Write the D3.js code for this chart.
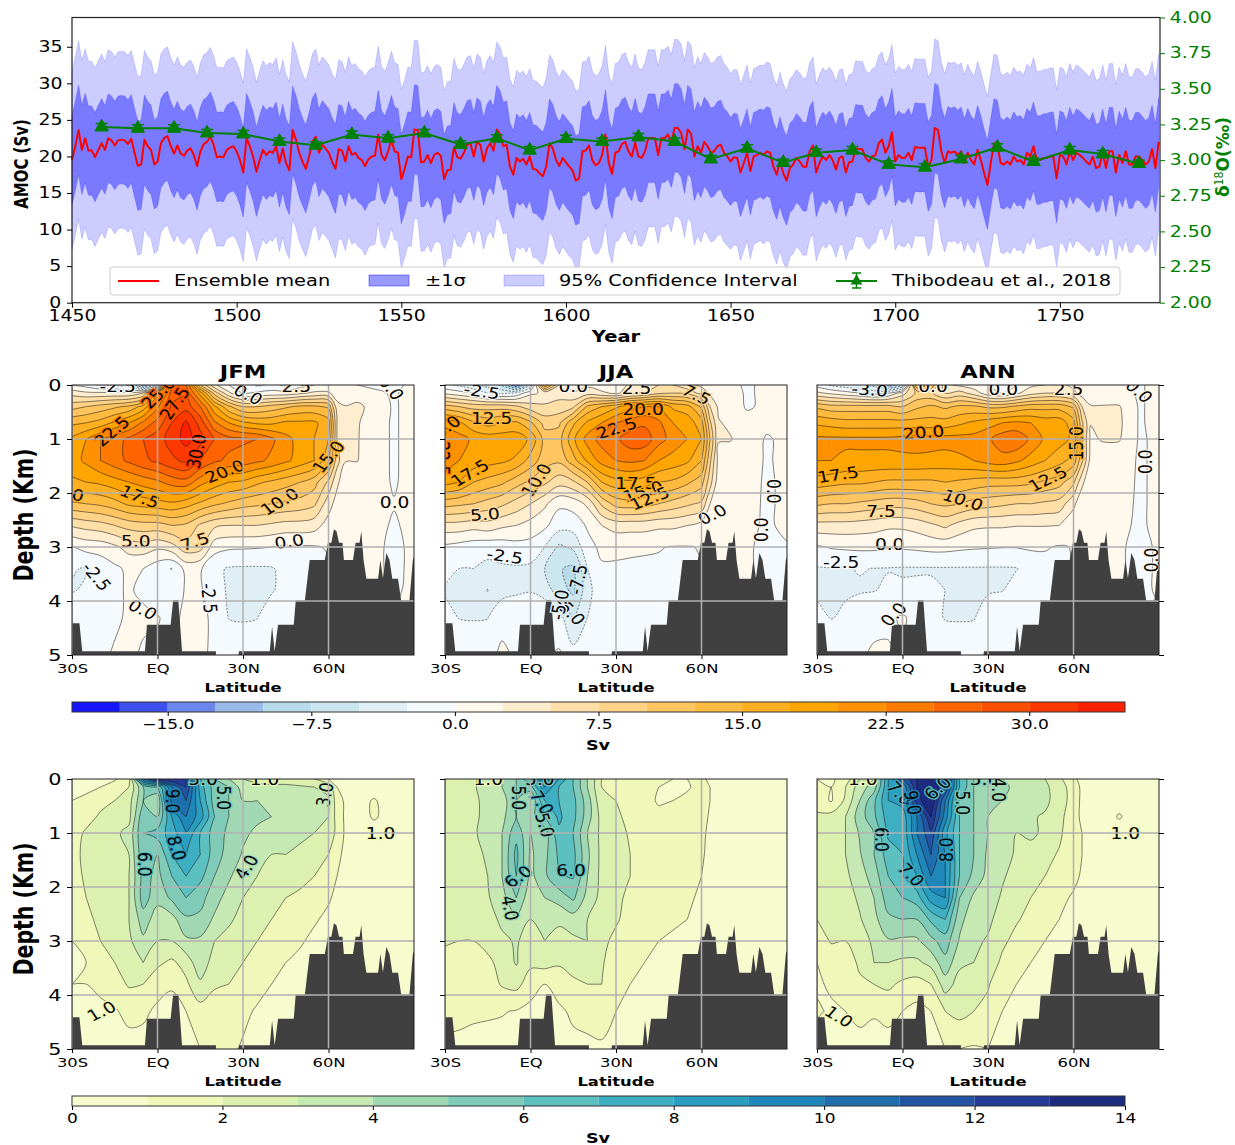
<!DOCTYPE html>
<html>
<head>
<meta charset="utf-8">
<script src="https://cdn.jsdelivr.net/npm/d3@7"></script>
<style>
  html, body { margin: 0; padding: 0; background: #fff; }
  svg { display: block; font-family: "DejaVu Sans", sans-serif; }
  .wide { transform-box: fill-box; transform-origin: center; transform: scaleX(1.26); }
</style>
</head>
<body>
<div id="chart"></div>
<script>
// --- Time series data ---
const firstYear = 1450;
const amocMean = [
  19.5,21.4,23.6,20.9,22.5,20.8,20.8,19.9,20.9,21.8,20.9,22.5,22.2,21.5,22.2,22.3,22.2,21.7,22.4,20.5,
  18.7,18.9,22.3,21.4,20.9,18.9,19.3,21.8,22.5,22.8,21.4,20.4,21.5,20.4,20.1,20.8,21.1,20.2,18.7,20.7,
  21.7,22,22.7,21.6,19.9,20,19.9,20.9,21.2,21.4,20.7,19.5,17.8,22.5,21.4,20,17.9,19.5,20.9,20.2,
  20.7,20.5,21.4,19.1,21.1,19.1,18.1,23.6,22.3,20.5,19.3,18.3,20,22,22.7,20.5,21.6,21.1,20.5,19.3,
  18.3,21,20.8,19.3,21.4,20.2,20.5,19.8,19.5,18.7,19.6,20,20.1,23,20.2,19.5,20.7,22.3,20.7,20.5,
  16.9,18.3,20,19.9,23.7,23.6,19.2,19.3,20.2,19.1,20.2,20.5,20.1,16.9,18.1,18.2,21.3,19.9,19.7,20.5,
  21.6,21.8,20,22,21.6,19.3,21.1,21.8,20.8,23.7,23,21.4,21.6,18.6,17.5,19.8,19.3,19.7,18.9,20,
  18.3,18.2,17.7,17.3,18.6,21.8,21.1,19.5,18.7,19.8,19.2,18.6,18.1,16.7,17,20.7,20.8,21.5,19.5,18.8,
  19.1,20.2,23,19.1,17.6,20.5,20.7,21.7,22,20.7,20,21.9,20,19.8,20.7,22.5,22.5,22.5,20.2,22.5,
  22.5,23,21.8,23.9,23.9,23.2,21,23.7,23.1,20,21.4,20.5,22,21.4,20.5,20.7,21.4,21.6,20.5,20,
  19.3,19.9,19.8,17.8,19.1,20.5,18,20,20.2,20.5,20.2,20.7,20.5,18.6,17.5,19.3,17.7,16.7,18.4,18.9,
  19.8,19.3,18.6,18.6,20.7,21.5,17.8,19.1,20,19.5,20.2,19.5,18.2,19.8,20,17.8,19.2,19.3,21.1,21,
  21,19.8,19.3,20,20.2,21.8,22.3,20.5,21.4,23.3,19.3,20.2,19.8,19.8,20.5,19.5,21.3,21.2,21.2,21.2,
  18.6,19.5,23.9,23.6,20.7,19.1,20.7,20.5,20.7,20.2,20.7,19.1,20.5,19.5,18.9,20.9,19.5,17.7,16.1,19.1,
  21.8,21.6,19.1,18.9,19.3,18.9,20,19.3,19.5,18.9,20.5,20,21.4,19.5,19.5,19.8,19.8,20,20,17,
  20.2,20,18.9,20.7,19.5,20.5,20.2,19.8,19.3,18.9,20,18.4,18.6,20.5,18.4,20.7,20.7,17.8,20.2,19.1,
  20.7,18.9,18.9,20,20,19.5,18.9,19.3,21,18.4,22
];
// one spread value per decade, starting at 1450
const amocSigma = [6.1,6.05,6.1,6.05,6.1,6.1,6.05,6.0,6.1,6.05,6.1,6.05,6.0,6.0,6.05,6.1,6.1,6.05,6.05,6.1,6.0,6.1,6.05,6.0,6.0,6.05,6.1,6.05,6.1,6.05,6.0,6.0,6.0,6.0];

const thibYears = [1459,1470,1481,1491,1502,1513,1524,1535,1546,1557,1568,1579,1589,1600,1611,1622,1633,1644,1655,1666,1676,1687,1698,1709,1720,1731,1742,1753,1763,1774];
const thibValues = [3.232,3.223,3.223,3.19,3.183,3.13,3.104,3.18,3.153,3.19,3.11,3.153,3.07,3.15,3.13,3.162,3.13,3.008,3.083,2.982,3.052,3.07,2.97,2.95,3.008,3.09,2.989,3.07,3.043,2.975];
const thibError = 0.025;

// --- Section grids: one row per depth, one column per latitude ---
const gridLats = [-30,-25,-20,-15,-10,-5,0,5,10,15,20,25,30,35,40,45,50,55,60,63,66,70,76,83,90];
const gridDepths = [0,.15,.4,.7,1,1.4,1.8,2.2,2.6,3,3.4,3.8,4.3,5];

const jfmMean = [
  [0,-1,-3,-3,-4, -12,-8,25,25,10, 3,0,-1,-3,-2, -3,-1,0,0,0, 0,0,-.5,-.5,.5],
  [4,3,3,3,3, 5,16,26,27,19, 9,3,0,.5,1, 1,2,3,3,1, 1,1,.5,-.3,1],
  [9,10,11,12,13, 16,22,28,29,25, 18,13,10,10,11, 12,13,13,12,3.5, 2.6,3.2,1.5,-.3,1],
  [14.5,15,16,18,20, 23,26,30,33,29, 23,20,18,17,17, 18,18,18,16,5, 2.6,2.8,1,-.3,1],
  [18,20,22.5,24,25.5, 27.5,29,31,33.5,31, 27.5,25.8,25.4,25,23, 20.8,19,17.5,15,5, 2.8,2.7,1,-.3,1],
  [19,20.5,22.5,24,25.5, 27,28,29.5,30.5,27.5, 25.5,24.5,24,23,22, 20.5,19,17.5,13,6, 2.6,2.6,1,-.3,1],
  [17,17.5,18,19,20, 21,22,23.5,24,21, 19,17.5,17,15.5,14.5, 13.5,12.5,11,7,3, .8,.8,.8,-.2,.8],
  [12,12.5,13,14,15.5, 16,16.5,17,16,14.5, 13,12,11,10.5,10, 9.5,9,8,3.5,1.5, .7,.6,.6,.1,.6],
  [5.3,6,6.5,7.5,8.5, 9,9,10,9.5,7, 5.5,5,5,5,4.5, 4,4,3.5,1.5,.6, .5,.5,.5,-.2,.5],
  [-.1,.8,1,2,3.5, 3.8,3,4,6.5,6, 1,.4,.3,.2,0, -.4,-.3,-.2,.2,.3, .3,.3,.3,-.3,.3],
  [-2.4,-2.6,-1.5,-.5,.5, 0,-1.5,-2.6,.8,.3, -2,-2.7,-2.8,-2.8,-2.7, -1.8,-1,-.5,-.3,.3, .3,.3,.3,-.3,.3],
  [-2.6,-2.3,-1.2,-.3,.2, -.4,-1.5,-1.2,.2,.3, -1.5,-2.8,-3,-3,-2.8, -1.5,-.8,-.3,.3,.3, .3,.3,.3,-.2,.3],
  [-1.5,-.9,-.8,-.6,.5, .4,.1,-.5,.4,.6, -.5,-2.6,-2.8,-2.6,-.7, -.3,-.2,0,.2,.2, .2,.2,.2,.2,.2],
  [-1,-1,-.7,.4,.5, -.3,-.3,-.3,.5,.5, -.5,-.8,-.5,-.3,-.2, -.2,-.1,0,0,0, 0,0,0,0,0]
];
const jjaMean = [
  [-2,-3,-5,-6,-8, -15,-5,15,5,.5, 2,1,1,3,4, 5,5,3,2,.5, .5,.5,-.3,.5,.5],
  [2,1,0,-2.5,-3, -2,2,3,4,3, 4,3,2,4,5, 7,7.5,7,4,2, 1,1,-.3,.5,.5],
  [11,10,9,9,9, 8,6,5.5,6,7, 13,15,17,19,20, 20,17,16,12,5, 2,1.5,-.3,.5,.5],
  [19,18,15.5,14,15, 15.5,13,9,9.5,14.5, 18,20,22.5,23.5,24.5, 23,20,19,16,8, 2.7,2,1,.5,.5],
  [22.5,21,19.5,19,19, 19,17,11.5,11.5,17, 21,23.5,24.5,26.5,26.5, 23.5,21.5,20,17.5,10, 2.7,2.7,1,-.2,.5],
  [21.5,20,19,18.5,18, 17,14,11,10.5,14, 18,21,22.5,23,22.5, 20,19,18,15,8, 1.5,1,.8,-.2,.5],
  [18.5,17.5,15,14,13, 11,9.5,8,6,7, 10,15,16.5,17,16, 15,14.5,13,11,6, 1,.8,.5,-.2,.3],
  [11,10.5,10,9,8, 6.5,5,3,.5,1, 3,8,11,11.5,11, 10,9,8,7,2.5, .7,.5,.4,-.2,.3],
  [4,4,3.5,4,3, 2.5,1.5,.5,-1.5,-1.5, .3,2.5,3.5,3.5,3.5, 3,3,2.5,1.5,.3, .3,.3,.3,-.2,.3],
  [-.5,-1,-1.5,-1.8,-1.5, -1,-1,-2.5,-5.5,-4.5, -.8,.5,.5,.3,.2, .1,-.1,-.1,.1,.1, .1,.1,.1,-.2,-.1],
  [-1.8,-2.5,-2.5,-3,-2.8, -2.8,-3,-5,-7.3,-8, -2.5,-.3,-.3,-.3,-.3, -.3,-.2,-.2,-.1,-.1, .1,.1,.1,-.2,-.2],
  [-2.7,-3.3,-4,-5.1,-3.5, -3,-2.7,-3.5,-6.5,-8, -3.5,-.5,-.4,-.4,-.3, -.3,-.2,-.2,-.1,-.1, .1,.1,.1,-.2,-.2],
  [-1.8,-2.6,-2.7,-2.6,-.5, -.3,-.2,-.5,-1.5,-5.3, -2.5,-.4,-.4,-.3,-.3, -.2,-.2,-.2,-.1,-.1, -.1,-.1,-.1,-.1,-.1],
  [-.5,-.6,-.6,-.5,.3, -.2,-.2,-.2,.3,-1.5, -.8,-.4,-.3,-.3,-.2, -.2,-.2,-.1,-.1,-.1, -.1,-.1,-.1,-.1,-.1]
];
const annMean = [
  [-1,-3,-4,-5,-6, -12,-8,15,12,3, 2,1,0,-1,0, 2,2.5,3,2,1, .5,.5,.5,-.2,.5],
  [3,2,1,0,-1, 0,4,8,8,5, 6,4,1,0,2, 4,5,5,3,1.5, .8,.7,.7,-.2,.5],
  [12,11,11,11,11, 11,10,12,13,12, 13,13,12,12,13, 14,14,14,12,5, 2.7,2.7,2.7,-.2,.5],
  [17,16.5,16,16,16, 16,16,16,16,16, 17,18,19,20,20.5, 20,19,19,16,8, 2.6,3,3,-.2,.5],
  [20.5,20.5,20.5,20.5,20.5, 20.5,20.8,21,21,21, 21,21,22,24,24.5, 22,19.5,18.5,17,8, 2,2.7,2.7,-.2,.3],
  [20,20,19.5,19.5,19.5, 19.5,19.5,19.5,19.3,19, 19.5,20,21,21.5,20.5, 19,17.5,16,14,8, 1.5,1,1,-.2,.3],
  [16.5,16,15.5,15.5,15, 14.5,14.5,14.5,14.5,15, 14.5,14,13.5,13.5,13.5, 13,12,11,8,3, .7,.7,.7,-.2,.3],
  [10.5,10,10,9.5,9, 8.5,8.5,9,10,10.5, 10,9,8.5,8,7.5, 7.5,7,6.5,3,1, .5,.5,.5,-.2,.3],
  [4,4,4,3.8,3.5, 3,3,3.5,4.5,5.5, 4,3,2.8,2.8,2.6, 2.6,2.6,2.5,1,.3, .3,.3,.3,-.2,.3],
  [-.3,.2,.4,.5,.5, .2,.3,.5,.8,.8, .5,.3,.2,.1,.1, .3,.2,-.2,.1,.1, .1,.1,.1,-.2,.1],
  [-2.7,-2.6,-2.6,-2.4,-2.55, -2.6,-2.7,-2.7,-2.7,-2.7, -2.7,-2.7,-2.7,-2.7,-2.6, -1.5,-.8,-.3,.1,.1, .1,.1,.1,-.2,.1],
  [-2.8,-2.8,-2.7,-2.7,-2.6, -2.1,-2.2,-2.1,-2.1,-2.5, -2.7,-2.8,-2.8,-2.6,-1.5, -.8,-.4,-.2,.1,.1, .1,.1,.1,-.2,.1],
  [-2,-2.6,-2.2,-1.2,-.6, -.3,.2,-.5,-1.5,-2.7, -2.8,-2.7,-1,-.5,-.3, -.2,-.2,-.1,-.1,-.1, -.1,-.1,-.1,-.1,-.1],
  [-.5,-.5,-.5,-.3,.3, .2,-.3,-.3,-.3,-.3, -.3,-.3,-.3,-.2,-.2, -.1,-.1,-.1,-.1,-.1, -.1,-.1,-.1,-.1,-.1]
];
const jfmStd = [
  [.6,.6,.7,.9,1.5, 10,13,13,12,7, 5,4,3,2.5,2, 2,2,2,1,.8, .8,.8,.7,.7,.7],
  [.7,.8,1,1.4,2, 5,6,10,12,7.5, 5.5,5,3.5,3.5,3.5, 3.5,3.2,3,2.8,1, .8,.8,.7,.7,.7],
  [1,1.2,1.6,2,2.6, 5,4,10.5,11,8, 5.5,5,4,4,3.8, 3.5,3.3,3.2,3.1,1.5, .8,.8,1.05,.7,.7],
  [1.2,1.5,2.2,2.3,2.7, 5.8,5,8,10,8.5, 6,5,4.5,4.2,4, 3.8,3.5,3.2,3,1.6, .8,.8,1.05,.8,.7],
  [1.4,2.2,2.6,2.8,3.3, 6,6.4,7.5,9,7, 5.5,4.8,4.2,3.8,3.5, 3.3,3.2,3,2.5,1.8, .8,.8,.8,.8,.8],
  [1.6,2.3,2.6,2.7,3, 5.8,5,7,8,7, 5.5,4.6,3.9,3.4,3, 3,2.8,2.5,2,1.2, .8,.8,.8,.8,.8],
  [1.5,2.2,2.5,2.6,3, 5.4,4.7,6,7,6.3, 5,4.2,3.2,3,2.8, 2.5,2.3,2,1.6,1, .7,.7,.7,.7,.7],
  [1.3,2,2.3,2.5,3, 5.5,4.3,5.2,6,5.3, 4.5,3.5,3,2.6,2.2, 2,1.8,1.5,1.1,.8, .7,.6,.6,.6,.6],
  [1.2,1.8,2.2,2.4,3, 4.5,3.5,3.6,4.8,4.8, 3.8,3.1,2.8,2.2,2, 1.6,1.4,1.1,.8,.6, .6,.5,.5,.5,.5],
  [1,1.2,2,2.2,2.8, 3.8,3,3,3.8,3.8, 3,2.8,2.4,2,1.8, 1.3,1.1,.8,.6,.5, .5,.5,.5,.5,.5],
  [.9,1,1.5,2,2.2, 3,2.2,1.8,2.4,3.7, 2.5,2.2,2,1.8,1.4, 1,.8,.6,.5,.5, .5,.5,.5,.5,.5],
  [1,1,1.2,1.6,2.1, 2,1.4,1.1,1.8,2.8, 2.1,2,1.8,1.3,1, .8,.6,.5,.5,.5, .5,.5,.5,.5,.5],
  [.9,.9,.8,.9,1.3, 1.2,.8,.7,1,1.6, 1.6,1.6,1.2,.9,.7, .6,.5,.4,.4,.4, .4,.4,.4,.4,.4],
  [.5,.5,.5,.5,.6, .6,.5,.5,.7,1, 1.3,1.2,.9,.7,.5, .4,.4,.4,.4,.4, .4,.4,.4,.4,.4]
];
const jjaStd = [
  [2.5,2.5,2.8,3.5,4, 5,7,11,8,6, 4,2,1.5,1.2,1.2, 1,1,1,1.2,.8, .7,.7,.7,.7,.7],
  [2.5,2.6,2.9,3.4,4, 5,5.5,9,7,6, 4,2,1.6,1.3,1.2, 1,.9,.9,1.3,1, .7,.7,.7,.7,.7],
  [2.5,2.5,2.8,3.3,3.5, 5,4,7,7,6.3, 4.5,2.2,2,1.5,1.3, .9,1,1.2,1.3,1, .7,.7,.7,.7,.7],
  [2.5,2.5,2.8,3.3,3.7, 5,4.5,6,7.2,6.3, 4.5,2.6,2.2,1.7,1.4, 1.2,1.2,1.2,1.3,.9, .7,.7,.7,.7,.7],
  [2.5,2.5,2.9,3.3,4, 5.7,4,4.5,6.8,6, 4,2.7,2.3,1.9,1.6, 1.4,1.3,1.2,1.2,.8, .7,.7,.7,.7,.7],
  [2.5,2.5,2.8,3.1,4, 6.3,3.8,4.7,6.2,6.3, 4.2,2.7,2.3,2,1.7, 1.4,1.3,1.2,1.1,.8, .7,.7,.7,.7,.7],
  [2.4,2.4,2.6,3,4, 6,3.7,4.8,5.9,6.1, 4,2.7,2.2,2,1.7, 1.4,1.3,1.2,1,.8, .7,.7,.7,.7,.7],
  [2.3,2.3,2.5,2.9,3.6, 5,3.3,4,4.4,5.2, 3.6,2.7,2.2,1.8,1.6, 1.3,1.2,1.1,.9,.7, .6,.6,.6,.6,.6],
  [2.2,2.2,2.2,2.6,3.2, 4,3,3.2,3.2,3.5, 3,2.4,2.1,1.7,1.4, 1.2,1.1,1,.9,.7, .6,.6,.6,.6,.6],
  [2.1,2,2,2.3,2.8, 3.1,2.6,3,2.6,2.8, 3,2.2,1.8,1.4,1.2, 1,.9,.8,.7,.6, .6,.6,.6,.6,.6],
  [1.7,1.6,1.7,1.8,2.3, 3.1,2.2,2.4,2.1,2.2, 2.5,2.1,1.5,1.2,1, .8,.7,.7,.6,.6, .6,.6,.6,.6,.6],
  [1.5,1.5,1.4,1.5,2.1, 2.3,1.5,1,1.5,1.9, 2,2,1.4,1,.8, .7,.6,.6,.6,.6, .6,.6,.6,.6,.6],
  [1.3,1.2,1.1,1.1,1.05, .95,.7,.6,.8,1.2, 1.3,1.3,1,.8,.7, .6,.5,.5,.5,.5, .5,.5,.5,.5,.5],
  [.8,.8,.8,.7,.7, .6,.5,.5,.5,.7, .8,.9,.7,.6,.5, .5,.5,.5,.5,.5, .5,.5,.5,.5,.5]
];
const annStd = [
  [1,.8,1.5,3,4, 8,11,13,13,12, 7,5,4.5,4,3.5, 3.3,3,2.2,1.2,.7, .7,.7,.7,.7,.7],
  [1.2,1,2,3.5,4.5, 8,9,13,14,12, 7,5,4.6,4.2,3.8, 3.3,3.2,2.5,1.5,.8, .7,.7,.7,.7,.7],
  [1.5,.9,2.2,4,5.8, 8,8.5,12.5,14,10, 6,5,4.5,4,3.5, 3.3,3.2,2.6,1.5,.8, .7,.7,.8,.7,.7],
  [2.2,2.4,3,4.5,5.8, 7.5,7.4,10,13,9.5, 6,5,4,3.6,3.2, 3.1,2.9,2.3,1.4,.8, .7,.7,1.05,.7,.7],
  [2.5,2.7,3,4.1,5, 7.2,7.2,10,11.8,8.3, 6,5,4,3.5,3, 3.2,2.8,2.2,1.3,1, .7,.7,.7,.7,.7],
  [2.5,2.7,3,3.9,5, 6.5,7,9,11,9, 6,5,3.8,3.3,2.9, 2.6,2.3,1.9,1.2,1, .7,.7,.7,.7,.7],
  [2.4,2.5,2.8,3.5,4.5, 6,7,8,10,9, 6,4.7,3.7,3.1,2.7, 2.3,2,1.7,1.2,.9, .7,.7,.7,.7,.7],
  [2.2,2.3,2.5,3.2,4, 5.5,6,6.5,8.5,9, 5,3.8,3.4,2.9,2.4, 2,1.6,1.2,.9,.8, .6,.6,.6,.6,.6],
  [2,2,2.2,2.9,3.7, 4.8,5,5,6.2,7, 4.3,3.4,3.2,2.6,2.1, 1.7,1.3,1,.8,.7, .6,.6,.6,.6,.6],
  [1.4,2.1,2,2.5,3.2, 3.9,3.8,3.8,4.7,5.5, 3.9,3.2,2.9,2.2,1.7, 1.3,1,.8,.7,.6, .6,.6,.6,.6,.6],
  [1,1.3,1.7,2.1,3, 3,2.8,2.8,3.3,4.7, 3.2,3,2.6,1.8,1.4, 1,.8,.7,.6,.6, .6,.6,.6,.6,.6],
  [.9,1.1,1.3,1.9,2, 2.2,1.8,1.6,2,3.5, 2.6,2.5,2.1,1.3,1, .8,.7,.6,.6,.6, .6,.6,.6,.6,.6],
  [1.1,.9,1,1.3,1.1, 1.3,1,.7,1,2, 2.3,2,1.7,1,.8, .6,.6,.6,.6,.6, .6,.6,.6,.6,.6],
  [.6,.6,.6,.6,.6, .6,.5,.5,.5,1, 1,.9,1,.7,.5, .5,.5,.5,.5,.5, .5,.5,.5,.5,.5]
];

// sea floor outline, same in every panel
const floorLats = [-30,-27.4,-26.4,-4.4,-3.7,4.6,5.5,7.3,8.6,20.5,20.5,28.4,28.6,39.4,40.2,41.1,42.3,47.8,48.5,51.7,53.4,58.7,59.8,61,61.9,62.8,63.7,64.9,65.4,68.6,69.5,70.9,71.5,72.3,73.3,77.4,78.2,79.1,80.3,81.4,82.4,84.4,85.5,88.4,89.6,90];
const floorDepths = [4.41,4.41,4.93,4.93,4.44,4.44,3.98,3.98,4.93,4.93,5,5,4.93,4.93,4.47,4.93,4.44,4.44,3.99,3.99,3.24,3.24,2.92,2.92,2.67,2.71,2.92,2.92,3.24,3.24,2.92,2.92,2.71,3.24,3.59,3.59,3.24,3.58,3.11,3.24,3.59,3.59,3.99,3.99,3.24,3.18];

// contour labels: [lat, depth, angle, text]
const jfmMeanLabels = [[-14,.03,0,"-2.5"],[-16,.86,45,"22.5"],[.3,.15,50,"25.0"],[6,.34,60,"27.5"],[13.7,1.23,80,"30.0"],[31.8,.18,-30,"0.0"],[48.7,.03,0,"2.5"],[60,1.33,55,"15.0"],[82,.06,-55,"0.0"],[23.6,1.6,25,"20.0"],[-6.2,2.07,-25,"17.5"],[42.9,2.16,35,"10.0"],[-33,2,-10,"15.0"],[83.2,2.18,0,"0.0"],[-7.6,2.9,0,"5.0"],[13.1,2.9,20,"7.5"],[46.2,2.9,10,"0.0"],[-21.4,3.55,-55,"-2.5"],[18.1,3.95,-85,"-2.5"],[-5.2,4.16,-30,"0.0"]];
const jjaMeanLabels = [[-17.1,.12,-10,"-2.5"],[15,.03,0,"0.0"],[37.2,.06,0,"2.5"],[58.2,.18,-30,"7.5"],[-13.6,.62,0,"12.5"],[39.5,.46,0,"20.0"],[30.2,.8,20,"22.5"],[-31,.83,40,"20.0"],[-31,1.36,-90,"22.5"],[-21.2,1.63,35,"17.5"],[2.1,1.76,60,"10.0"],[37,1.83,0,"17.5"],[39.5,1.97,20,"15.0"],[41.8,2.1,25,"12.5"],[-16,2.4,5,"5.0"],[-9,3.17,-10,"-2.5"],[16.7,3.6,80,"-7.5"],[13.8,4.19,-50,"-5.0"],[10.3,4.07,80,"-5.0"],[63.8,2.4,30,"0.0"],[85.4,1.97,-90,"0.0"],[81.2,2.68,90,"0.0"]];
const annMeanLabels = [[-11.5,.09,-5,"-3.0"],[10.7,.02,0,"0.0"],[35.4,.09,0,"0.0"],[58.3,.09,0,"2.5"],[83,.12,-45,"0.0"],[7.4,.88,5,"20.0"],[60.9,1.08,90,"15.0"],[85.4,1.42,90,"0.0"],[-22.6,1.66,10,"17.5"],[51,1.74,30,"12.5"],[21.2,2.13,-20,"10.0"],[-7.5,2.34,0,"7.5"],[-4.5,2.96,0,"0.0"],[-21.5,3.28,0,"-2.5"],[-3.1,4.25,50,"0.0"],[87.5,3.24,90,"0.0"]];
const jfmStdLabels = [[37.6,.01,0,"1.0"],[16,.01,0,"5.0"],[23.3,.35,-90,"5.0"],[5.3,.41,-90,"9.0"],[6.7,1.28,-75,"8.0"],[-4.4,1.58,-90,"6.0"],[31.2,1.63,60,"4.0"],[58.7,.29,80,"3.0"],[78.3,1.01,0,"1.0"],[-19.6,4.3,30,"1.0"]];
const jjaStdLabels = [[-14.8,.01,0,"1.0"],[-4.3,.35,-90,"5.0"],[3.3,.01,0,"5.0"],[3.9,.44,-60,"7.0"],[5,.85,-75,"5.0"],[-4.3,1.81,40,"6.0"],[-7.2,2.39,-80,"4.0"],[14.2,1.69,0,"6.0"]];
const annStdLabels = [[-13.9,.01,0,"1.0"],[21.2,.44,-90,"5.0"],[28.8,.01,0,"5.0"],[33.8,.2,-90,"4.0"],[12.4,.17,45,"6.0"],[-1,.26,-50,"7.0"],[3.6,.44,-80,"9.0"],[-7.5,1.12,-90,"6.0"],[15.3,1.31,90,"8.0"],[3,1.77,-50,"7.0"],[78.2,1.01,0,"1.0"],[-22.3,4.4,-35,"1.0"]];

// --- Colours and levels ---
const meanLevels = d3.range(-20, 35.1, 2.5);
const meanColors = ["#1414ff","#4050f0","#6d86ec","#9abbe9","#b7dbe8","#cce6f0","#e0eff5","#f4fafd","#fff8ec","#ffedcf","#ffdfa8","#ffd488","#ffc560","#ffbb40","#ffb020","#ffa500","#ff9000","#ff7a00","#ff6400","#ff4e00","#ff3800","#ff2000"];
const stdLevels = d3.range(0, 14.1, 1);
const stdColors = ["#f7fccf","#eff8b8","#dcf0b0","#c6e8b3","#a1d8b4","#7fcbb8","#5cbfc0","#3eafc2","#2a9dc0","#1f87b9","#1f6fae","#2254a3","#243a97","#1c2a80"];

// --- Layout ---
const width = 1235, height = 1145;
const stretch = 1.26;  // the figure is wider than tall, text included
const font = "DejaVu Sans";

const svg = d3.select("#chart").append("svg").attr("width", width).attr("height", height);

function putText(parent, x, y, str, o = {}) {
    return parent.append("text")
        .attr("transform", `translate(${x},${y}) scale(${o.sx ?? stretch},1) rotate(${-(o.rot || 0)})`)
        .attr("text-anchor", o.anchor || "middle")
        .attr("dominant-baseline", "central")
        .attr("font-size", o.size || 14)
        .attr("font-weight", o.weight || "normal")
        .attr("fill", o.fill || "#000")
        .text(str);
}

function styleAxis(g, size, color = "#000") {
    g.select(".domain").remove();
    g.selectAll(".tick line").attr("stroke", color);
    g.selectAll(".tick text").attr("class", "wide").attr("font-family", font)
        .attr("font-size", size).attr("fill", color);
}

// --- Top panel: AMOC time series ---
function drawSeries() {
    const left = 72, right = 1160, top = 17.5, bottom = 302.7;
    const x = d3.scaleLinear().domain([1450, 1780.4]).range([left, right]);
    const y = d3.scaleLinear().domain([0, 39]).range([bottom, top]);
    const yRight = d3.scaleLinear().domain([2, 4]).range([bottom, top]);
    const g = svg.append("g");
    const yearOf = i => firstYear + i;
    const sigmaOf = i => amocSigma[Math.floor(i / 10)];

    const band = k => d3.area().x((d, i) => x(yearOf(i)))
        .y0((d, i) => y(d - k * sigmaOf(i))).y1((d, i) => y(d + k * sigmaOf(i)));
    g.append("path").attr("d", band(2)(amocMean)).attr("fill", "blue").attr("fill-opacity", .2)
        .attr("stroke", "blue").attr("stroke-opacity", .14);
    g.append("path").attr("d", band(1)(amocMean)).attr("fill", "blue").attr("fill-opacity", .4)
        .attr("stroke", "blue").attr("stroke-opacity", .2);

    g.append("path").attr("fill", "none").attr("stroke", "#ff0000").attr("stroke-width", 2)
        .attr("stroke-linejoin", "round")
        .attr("d", d3.line().x((d, i) => x(yearOf(i))).y(d => y(d))(amocMean));

    // proxy record on the right axis
    const green = "#008000";
    g.append("path").attr("fill", "none").attr("stroke", green).attr("stroke-width", 2)
        .attr("d", d3.line().x((d, i) => x(thibYears[i])).y(d => yRight(d))(thibValues));
    const tri = d3.symbol().type(d3.symbolTriangle).size(95);
    thibValues.forEach((v, i) => {
        const px = x(thibYears[i]);
        const m = g.append("g").attr("stroke", green).attr("stroke-width", 1.5);
        m.append("line").attr("x1", px).attr("x2", px).attr("y1", yRight(v - thibError)).attr("y2", yRight(v + thibError));
        [v - thibError, v + thibError].forEach(e => m.append("line").attr("x1", px - 6).attr("x2", px + 6).attr("y1", yRight(e)).attr("y2", yRight(e)));
        g.append("path").attr("d", tri()).attr("fill", green).attr("transform", `translate(${px},${yRight(v)})`);
    });

    g.append("rect").attr("x", left).attr("y", top).attr("width", right - left).attr("height", bottom - top)
        .attr("fill", "none").attr("stroke", "#222").attr("stroke-width", 1.2);

    styleAxis(g.append("g").attr("transform", `translate(0,${bottom})`)
        .call(d3.axisBottom(x).tickValues(d3.range(1450, 1751, 50)).tickFormat(d3.format("d")).tickSizeOuter(0).tickSize(5).tickPadding(3)), 15);
    styleAxis(g.append("g").attr("transform", `translate(${left},0)`)
        .call(d3.axisLeft(y).tickValues(d3.range(0, 36, 5)).tickSize(5).tickPadding(7)), 15);
    styleAxis(g.append("g").attr("transform", `translate(${right},0)`)
        .call(d3.axisRight(yRight).tickValues(d3.range(2, 4.01, .25)).tickFormat(d3.format(".2f")).tickSize(5).tickPadding(9)), 15, green);

    putText(g, 616, 337, "Year", { size: 15.5, weight: "bold" });
    putText(g, 21, 164, "AMOC (Sv)", { size: 15, weight: "bold", rot: 90 });
    const dl = putText(g, 1223, 157, "δ", { size: 17, weight: "bold", rot: 90, fill: green, sx: 1.05 });
    dl.append("tspan").attr("font-size", 11).attr("font-weight", "normal").attr("dy", -4).text("18");
    dl.append("tspan").attr("dy", 4).text("O(‰)");

    // legend
    const lg = g.append("g");
    lg.append("rect").attr("x", 110).attr("y", 267).attr("width", 1010).attr("height", 28).attr("rx", 3)
        .attr("fill", "#fff").attr("fill-opacity", .8).attr("stroke", "#ccc");
    lg.append("line").attr("x1", 118).attr("x2", 159).attr("y1", 281).attr("y2", 281).attr("stroke", "#ff0000").attr("stroke-width", 2);
    putText(lg, 174, 281, "Ensemble mean", { size: 15.4, anchor: "start" });
    lg.append("rect").attr("x", 369).attr("y", 275).attr("width", 40).attr("height", 11).attr("fill", "blue").attr("fill-opacity", .4).attr("stroke", "blue").attr("stroke-opacity", .4);
    putText(lg, 425, 281, "±1σ", { size: 15.4, anchor: "start" });
    lg.append("rect").attr("x", 504).attr("y", 275).attr("width", 40).attr("height", 11).attr("fill", "blue").attr("fill-opacity", .2).attr("stroke", "blue").attr("stroke-opacity", .2);
    putText(lg, 559, 281, "95% Confidence Interval", { size: 15.4, anchor: "start" });
    lg.append("line").attr("x1", 836).attr("x2", 877).attr("y1", 281).attr("y2", 281).attr("stroke", green).attr("stroke-width", 2);
    lg.append("line").attr("x1", 856.5).attr("x2", 856.5).attr("y1", 273).attr("y2", 288).attr("stroke", green).attr("stroke-width", 1.5);
    [273, 288].forEach(p => lg.append("line").attr("x1", 852).attr("x2", 861).attr("y1", p).attr("y2", p).attr("stroke", green).attr("stroke-width", 1.5));
    lg.append("path").attr("d", d3.symbol().type(d3.symbolTriangle).size(60)()).attr("fill", green).attr("transform", "translate(856.5,281)");
    putText(lg, 892, 281, "Thibodeau et al., 2018", { size: 15.4, anchor: "start" });
}

// --- Contour panels ---
let clipCount = 0;
const closedCurve = d3.line().curve(d3.curveCatmullRomClosed.alpha(.5));
const openCurve = d3.line().curve(d3.curveCatmullRom.alpha(.5));

function drawSection(o) {
    const { left, top, grid, levels, colors, labels } = o;
    const w = 342, h = 270;
    const x = d3.scaleLinear().domain([-30, 90]).range([left, left + w]);
    const y = d3.scaleLinear().domain([0, 5]).range([top, top + h]);
    const g = svg.append("g");

    // grid index to position; d3.contours puts sample i at i + 0.5
    const lonOf = d3.scaleLinear().domain(d3.range(gridLats.length)).range(gridLats).clamp(true);
    const depOf = d3.scaleLinear().domain(d3.range(gridDepths.length)).range(gridDepths).clamp(true);
    const toPx = p => [x(lonOf(p[0] - .5)), y(depOf(p[1] - .5))];

    // a segment running along the frame is not a contour line
    const onFrame = (a, b) => (a[0] === left && b[0] === left) || (a[0] === left + w && b[0] === left + w)
        || (a[1] === top && b[1] === top) || (a[1] === top + h && b[1] === top + h);

    function fillPath(band) {
        return band.coordinates.flat().map(ring => closedCurve(ring.slice(0, -1).map(toPx))).join("");
    }
    function linePath(band) {
        let d = "";
        band.coordinates.flat().forEach(ring => {
            const pts = ring.map(toPx);
            let piece = [pts[0]], broken = false;
            for (let i = 1; i < pts.length; i++) {
                if (onFrame(pts[i - 1], pts[i])) {
                    broken = true;
                    if (piece.length > 1) d += openCurve(piece);
                    piece = [pts[i]];
                } else piece.push(pts[i]);
            }
            if (!broken) d += closedCurve(pts.slice(0, -1));
            else if (piece.length > 1) d += openCurve(piece);
        });
        return d;
    }

    const clipId = `clip${clipCount++}`;
    g.append("clipPath").attr("id", clipId).append("rect").attr("x", left).attr("y", top).attr("width", w).attr("height", h);
    const inner = g.append("g").attr("clip-path", `url(#${clipId})`);

    const bands = d3.contours().size([gridLats.length, gridDepths.length]).smooth(true)
        .thresholds(levels)(grid.flat());
    inner.append("rect").attr("x", left).attr("y", top).attr("width", w).attr("height", h).attr("fill", colors[0]);
    bands.forEach((b, i) => {
        if (i < colors.length) inner.append("path").attr("d", fillPath(b)).attr("fill", colors[i]).attr("fill-rule", "evenodd");
    });
    bands.forEach((b, i) => {
        if (i === 0 || i >= colors.length) return;
        inner.append("path").attr("d", linePath(b)).attr("fill", "none").attr("stroke", "#111")
            .attr("stroke-width", .7).attr("stroke-opacity", .75)
            .attr("stroke-dasharray", b.value < 0 ? "2,1.5" : null);
    });

    // sea floor
    const floor = floorLats.map((d, i) => [d, floorDepths[i]]);
    inner.append("path").attr("fill", "#404040")
        .attr("d", d3.area().x(d => x(d[0])).y0(y(5)).y1(d => y(d[1]))(floor));

    // contour labels
    const bandColor = v => {
        const i = d3.bisectRight(levels, v) - 1;
        return colors[Math.max(0, Math.min(colors.length - 1, i))];
    };
    labels.forEach(([la, de, rot, str]) => {
        const t = putText(inner, x(la), y(de), str, { size: 15.5, sx: 1.2, rot });
        t.attr("paint-order", "stroke").attr("stroke", bandColor(+str)).attr("stroke-width", 2.5);
    });

    // grid lines on top of everything
    const gridG = inner.append("g").attr("stroke", "#b0b0b0").attr("stroke-width", 1.5);
    [-30, 0, 30, 60].forEach(v => gridG.append("line").attr("x1", x(v)).attr("x2", x(v)).attr("y1", top).attr("y2", top + h));
    [1, 2, 3, 4].forEach(v => gridG.append("line").attr("x1", left).attr("x2", left + w).attr("y1", y(v)).attr("y2", y(v)));

    g.append("rect").attr("x", left).attr("y", top).attr("width", w).attr("height", h)
        .attr("fill", "none").attr("stroke", "#222").attr("stroke-width", 1);

    styleAxis(g.append("g").attr("transform", `translate(0,${top + h})`)
        .call(d3.axisBottom(x).tickValues([-30, 0, 30, 60]).tickFormat((d, i) => ["30S", "EQ", "30N", "60N"][i]).tickSize(4).tickPadding(5)), 13);

    if (o.side === "left") {
        const axis = d3.axisLeft(y).tickValues(d3.range(0, 5.1, 1)).tickSize(5);
        if (o.tickLabels) axis.tickFormat(d3.format("d")).tickPadding(7); else axis.tickFormat("");
        styleAxis(g.append("g").attr("transform", `translate(${left},0)`).call(axis), 16.5);
    } else {
        styleAxis(g.append("g").attr("transform", `translate(${left + w},0)`)
            .call(d3.axisRight(y).tickValues(d3.range(0, 5.1, 1)).tickSize(5).tickFormat("")), 16.5);
    }

    putText(g, left + w / 2, top + h + 32, "Latitude", { size: 13, weight: "bold" });
    if (o.title) putText(g, left + w / 2, top - 13, o.title, { size: 18, weight: "bold" });
    if (o.tickLabels) putText(g, 24, top + h / 2 - 5, "Depth (Km)", { size: 20.5, weight: "bold", rot: 90 });
}

// --- Colour bars ---
function drawColorbar(o) {
    const { top, levels, colors, ticks, format, labelY } = o;
    const x = d3.scaleLinear().domain(d3.extent(levels)).range([72, 1125]);
    const g = svg.append("g");
    colors.forEach((c, i) => {
        g.append("rect").attr("x", x(levels[i])).attr("y", top)
            .attr("width", x(levels[i + 1]) - x(levels[i])).attr("height", 10).attr("fill", c);
    });
    g.append("rect").attr("x", 72).attr("y", top).attr("width", 1053).attr("height", 10)
        .attr("fill", "none").attr("stroke", "#333");
    styleAxis(g.append("g").attr("transform", `translate(0,${top + 10})`)
        .call(d3.axisBottom(x).tickValues(ticks).tickFormat(format).tickSize(4).tickPadding(3)), 13.5);
    putText(g, 598, labelY, "Sv", { size: 14, weight: "bold" });
}

drawSeries();

const panelLefts = [72, 445, 817];
[["JFM", jfmMean, jfmMeanLabels], ["JJA", jjaMean, jjaMeanLabels], ["ANN", annMean, annMeanLabels]].forEach((p, i) => {
    drawSection({ left: panelLefts[i], top: 385, title: p[0], grid: p[1], labels: p[2], levels: meanLevels, colors: meanColors,
                  side: i === 2 ? "right" : "left", tickLabels: i === 0 });
});
[[jfmStd, jfmStdLabels], [jjaStd, jjaStdLabels], [annStd, annStdLabels]].forEach((p, i) => {
    drawSection({ left: panelLefts[i], top: 779, grid: p[0], labels: p[1], levels: stdLevels, colors: stdColors,
                  side: i === 2 ? "right" : "left", tickLabels: i === 0 });
});

drawColorbar({ top: 702, levels: meanLevels, colors: meanColors, ticks: d3.range(-15, 30.1, 7.5), format: d3.format(".1f"), labelY: 745 });
drawColorbar({ top: 1096, levels: stdLevels, colors: stdColors, ticks: d3.range(0, 14.1, 2), format: d3.format("d"), labelY: 1138 });
</script>
</body>
</html>
